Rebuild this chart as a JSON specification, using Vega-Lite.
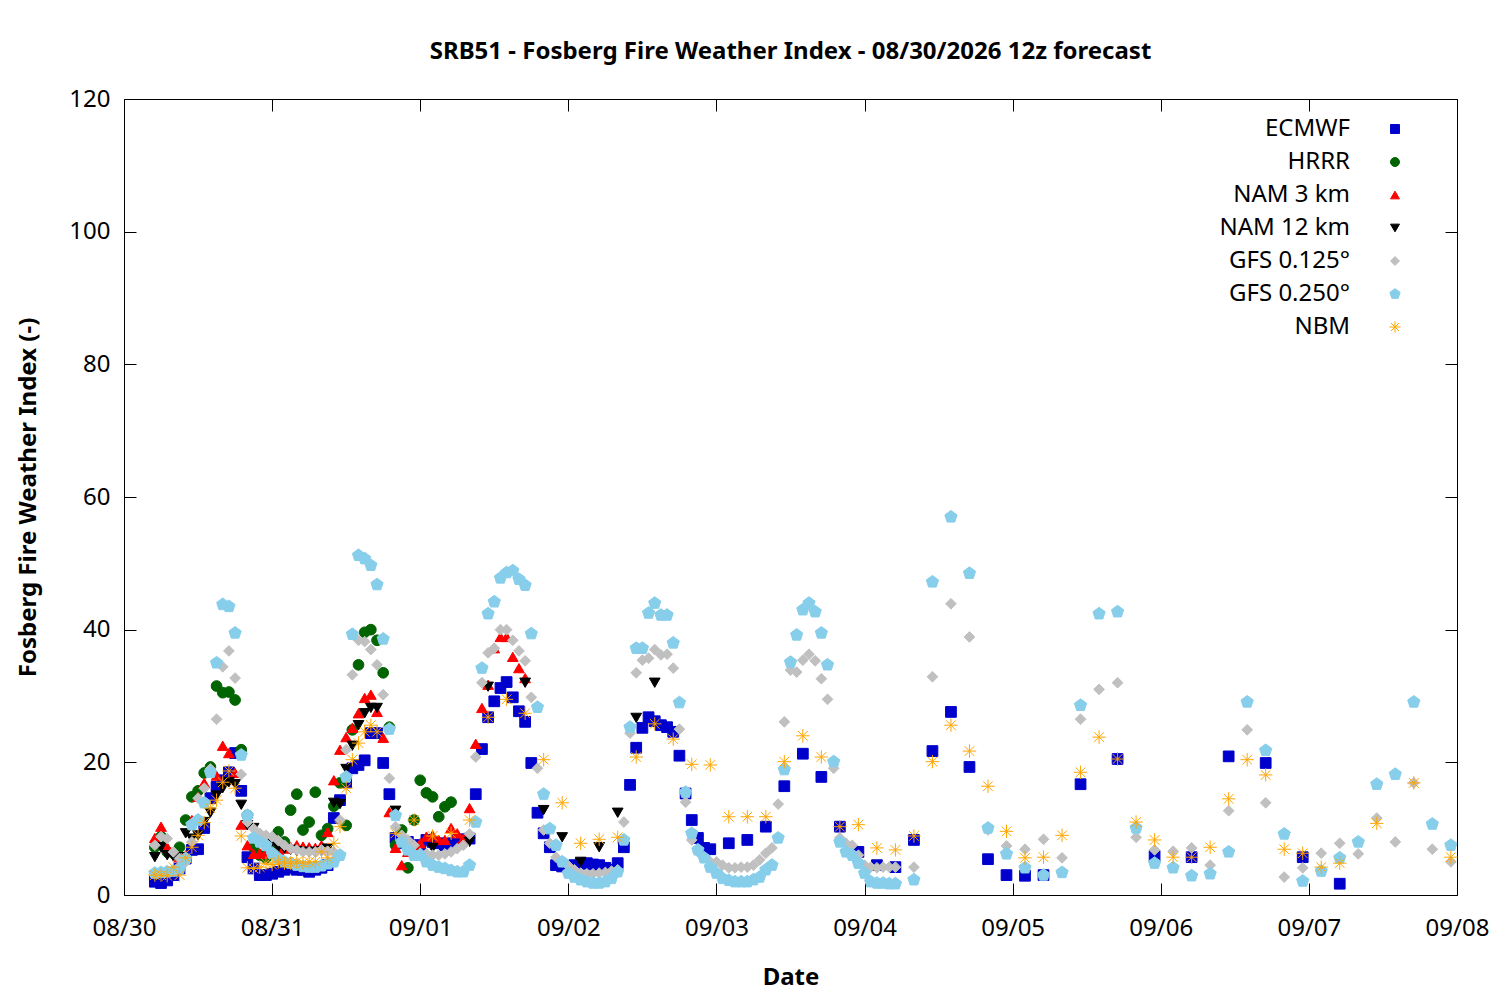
{
  "$schema": "https://vega.github.io/schema/vega-lite/v6.json",
  "description": "SRB51 Fosberg Fire Weather Index, model forecasts from the 08/30/2026 12z run.",
  "width": 1333,
  "height": 796,
  "autosize": {"type": "none"},
  "padding": {"left": 124, "top": 99, "right": 43, "bottom": 105},
  "background": "white",
  "title": {
    "text": "SRB51 - Fosberg Fire Weather Index - 08/30/2026 12z forecast",
    "font": "Noto Sans",
    "fontSize": 24,
    "fontWeight": "bold",
    "color": "black",
    "anchor": "middle",
    "offset": 23
  },
  "data": {"values": [
    {"m":"ECMWF","h":5,"v":2.0},{"m":"ECMWF","h":6,"v":1.8},{"m":"ECMWF","h":7,"v":2.2},{"m":"ECMWF","h":8,"v":3.0},{"m":"ECMWF","h":9,"v":4.0},{"m":"ECMWF","h":10,"v":5.5},{"m":"ECMWF","h":11,"v":6.8},{"m":"ECMWF","h":12,"v":6.9},{"m":"ECMWF","h":13,"v":10.1},{"m":"ECMWF","h":14,"v":14.6},{"m":"ECMWF","h":15,"v":16.3},{"m":"ECMWF","h":16,"v":17.3},{"m":"ECMWF","h":17,"v":18.5},{"m":"ECMWF","h":18,"v":21.4},{"m":"ECMWF","h":19,"v":15.7},{"m":"ECMWF","h":20,"v":5.7},{"m":"ECMWF","h":21,"v":4.0},{"m":"ECMWF","h":22,"v":3.0},{"m":"ECMWF","h":23,"v":3.0},
    {"m":"ECMWF","h":24,"v":3.2},{"m":"ECMWF","h":25,"v":3.5},{"m":"ECMWF","h":26,"v":3.8},{"m":"ECMWF","h":27,"v":4.1},{"m":"ECMWF","h":28,"v":3.8},{"m":"ECMWF","h":29,"v":3.8},{"m":"ECMWF","h":30,"v":3.5},{"m":"ECMWF","h":31,"v":3.8},{"m":"ECMWF","h":32,"v":4.1},{"m":"ECMWF","h":33,"v":4.5},{"m":"ECMWF","h":34,"v":11.6},{"m":"ECMWF","h":35,"v":14.3},{"m":"ECMWF","h":36,"v":17.0},{"m":"ECMWF","h":37,"v":19.1},{"m":"ECMWF","h":38,"v":19.6},{"m":"ECMWF","h":39,"v":20.3},{"m":"ECMWF","h":40,"v":24.4},{"m":"ECMWF","h":41,"v":24.4},{"m":"ECMWF","h":42,"v":19.9},{"m":"ECMWF","h":43,"v":15.2},{"m":"ECMWF","h":44,"v":8.6},{"m":"ECMWF","h":45,"v":7.8},{"m":"ECMWF","h":46,"v":8.0},{"m":"ECMWF","h":47,"v":7.5},
    {"m":"ECMWF","h":48,"v":7.5},{"m":"ECMWF","h":49,"v":8.3},{"m":"ECMWF","h":50,"v":8.0},{"m":"ECMWF","h":51,"v":7.8},{"m":"ECMWF","h":52,"v":7.5},{"m":"ECMWF","h":53,"v":7.8},{"m":"ECMWF","h":54,"v":8.3},{"m":"ECMWF","h":55,"v":8.4},{"m":"ECMWF","h":56,"v":8.5},{"m":"ECMWF","h":57,"v":15.2},{"m":"ECMWF","h":58,"v":22.0},{"m":"ECMWF","h":59,"v":26.8},{"m":"ECMWF","h":60,"v":29.2},{"m":"ECMWF","h":61,"v":31.2},{"m":"ECMWF","h":62,"v":32.1},{"m":"ECMWF","h":63,"v":29.8},{"m":"ECMWF","h":64,"v":27.7},{"m":"ECMWF","h":65,"v":26.1},{"m":"ECMWF","h":66,"v":19.9},{"m":"ECMWF","h":67,"v":12.4},{"m":"ECMWF","h":68,"v":9.3},{"m":"ECMWF","h":69,"v":7.2},{"m":"ECMWF","h":70,"v":4.5},{"m":"ECMWF","h":71,"v":4.3},
    {"m":"ECMWF","h":72,"v":4.4},{"m":"ECMWF","h":73,"v":4.5},{"m":"ECMWF","h":74,"v":4.7},{"m":"ECMWF","h":75,"v":4.8},{"m":"ECMWF","h":76,"v":4.6},{"m":"ECMWF","h":77,"v":4.5},{"m":"ECMWF","h":78,"v":4.1},{"m":"ECMWF","h":79,"v":3.8},{"m":"ECMWF","h":80,"v":4.8},{"m":"ECMWF","h":81,"v":7.2},{"m":"ECMWF","h":82,"v":16.6},{"m":"ECMWF","h":83,"v":22.2},{"m":"ECMWF","h":84,"v":25.2},{"m":"ECMWF","h":85,"v":26.8},{"m":"ECMWF","h":86,"v":26.2},{"m":"ECMWF","h":87,"v":25.6},{"m":"ECMWF","h":88,"v":25.3},{"m":"ECMWF","h":89,"v":24.6},{"m":"ECMWF","h":90,"v":21.0},{"m":"ECMWF","h":91,"v":15.3},{"m":"ECMWF","h":92,"v":11.3},{"m":"ECMWF","h":93,"v":8.6},{"m":"ECMWF","h":94,"v":7.1},{"m":"ECMWF","h":95,"v":6.9},
    {"m":"ECMWF","h":98,"v":7.8},{"m":"ECMWF","h":101,"v":8.3},{"m":"ECMWF","h":104,"v":10.3},{"m":"ECMWF","h":107,"v":16.4},{"m":"ECMWF","h":110,"v":21.3},{"m":"ECMWF","h":113,"v":17.8},{"m":"ECMWF","h":116,"v":10.3},{"m":"ECMWF","h":119,"v":6.5},{"m":"ECMWF","h":122,"v":4.5},{"m":"ECMWF","h":125,"v":4.2},{"m":"ECMWF","h":128,"v":8.3},{"m":"ECMWF","h":131,"v":21.7},{"m":"ECMWF","h":134,"v":27.6},{"m":"ECMWF","h":137,"v":19.3},{"m":"ECMWF","h":140,"v":5.4},{"m":"ECMWF","h":143,"v":3.0},{"m":"ECMWF","h":146,"v":2.9},{"m":"ECMWF","h":149,"v":3.0},
    {"m":"ECMWF","h":155,"v":16.7},{"m":"ECMWF","h":161,"v":20.5},{"m":"ECMWF","h":167,"v":5.9},{"m":"ECMWF","h":173,"v":5.7},{"m":"ECMWF","h":179,"v":20.9},{"m":"ECMWF","h":185,"v":19.9},{"m":"ECMWF","h":191,"v":5.7},{"m":"ECMWF","h":197,"v":1.7},

    {"m":"HRRR","h":5,"v":7.2},{"m":"HRRR","h":6,"v":8.8},{"m":"HRRR","h":7,"v":6.5},{"m":"HRRR","h":8,"v":6.3},{"m":"HRRR","h":9,"v":7.2},{"m":"HRRR","h":10,"v":11.3},{"m":"HRRR","h":11,"v":14.8},{"m":"HRRR","h":12,"v":15.7},{"m":"HRRR","h":13,"v":18.4},{"m":"HRRR","h":14,"v":19.3},{"m":"HRRR","h":15,"v":31.5},{"m":"HRRR","h":16,"v":30.5},{"m":"HRRR","h":17,"v":30.6},{"m":"HRRR","h":18,"v":29.4},{"m":"HRRR","h":19,"v":21.9},{"m":"HRRR","h":20,"v":12.0},{"m":"HRRR","h":21,"v":7.2},{"m":"HRRR","h":22,"v":6.0},{"m":"HRRR","h":23,"v":5.6},
    {"m":"HRRR","h":24,"v":7.2},{"m":"HRRR","h":25,"v":9.5},{"m":"HRRR","h":26,"v":8.0},{"m":"HRRR","h":27,"v":12.8},{"m":"HRRR","h":28,"v":15.2},{"m":"HRRR","h":29,"v":9.8},{"m":"HRRR","h":30,"v":11.0},{"m":"HRRR","h":31,"v":15.5},{"m":"HRRR","h":32,"v":9.0},{"m":"HRRR","h":33,"v":10.0},{"m":"HRRR","h":34,"v":13.4},{"m":"HRRR","h":35,"v":16.9},{"m":"HRRR","h":36,"v":10.5},{"m":"HRRR","h":37,"v":24.9},{"m":"HRRR","h":38,"v":34.7},{"m":"HRRR","h":39,"v":39.6},{"m":"HRRR","h":40,"v":40.0},{"m":"HRRR","h":41,"v":38.4},{"m":"HRRR","h":42,"v":33.5},{"m":"HRRR","h":43,"v":25.3},{"m":"HRRR","h":44,"v":7.5},{"m":"HRRR","h":45,"v":9.8},{"m":"HRRR","h":46,"v":4.1},{"m":"HRRR","h":47,"v":11.3},
    {"m":"HRRR","h":48,"v":17.3},{"m":"HRRR","h":49,"v":15.4},{"m":"HRRR","h":50,"v":14.8},{"m":"HRRR","h":51,"v":11.8},{"m":"HRRR","h":52,"v":13.3},{"m":"HRRR","h":53,"v":14.0},

    {"m":"NAM 3 km","h":5,"v":8.6},{"m":"NAM 3 km","h":6,"v":10.3},{"m":"NAM 3 km","h":7,"v":7.2},{"m":"NAM 3 km","h":8,"v":6.5},{"m":"NAM 3 km","h":9,"v":5.7},{"m":"NAM 3 km","h":10,"v":6.0},{"m":"NAM 3 km","h":11,"v":11.3},{"m":"NAM 3 km","h":12,"v":14.8},{"m":"NAM 3 km","h":13,"v":16.9},{"m":"NAM 3 km","h":14,"v":18.8},{"m":"NAM 3 km","h":15,"v":18.0},{"m":"NAM 3 km","h":16,"v":22.5},{"m":"NAM 3 km","h":17,"v":21.4},{"m":"NAM 3 km","h":18,"v":18.4},{"m":"NAM 3 km","h":19,"v":10.6},{"m":"NAM 3 km","h":20,"v":7.5},{"m":"NAM 3 km","h":21,"v":6.2},{"m":"NAM 3 km","h":22,"v":6.3},{"m":"NAM 3 km","h":23,"v":6.2},
    {"m":"NAM 3 km","h":24,"v":6.5},{"m":"NAM 3 km","h":25,"v":6.8},{"m":"NAM 3 km","h":26,"v":7.0},{"m":"NAM 3 km","h":27,"v":7.2},{"m":"NAM 3 km","h":28,"v":7.5},{"m":"NAM 3 km","h":29,"v":7.3},{"m":"NAM 3 km","h":30,"v":7.2},{"m":"NAM 3 km","h":31,"v":7.1},{"m":"NAM 3 km","h":32,"v":7.5},{"m":"NAM 3 km","h":33,"v":9.5},{"m":"NAM 3 km","h":34,"v":17.3},{"m":"NAM 3 km","h":35,"v":21.9},{"m":"NAM 3 km","h":36,"v":23.8},{"m":"NAM 3 km","h":37,"v":25.2},{"m":"NAM 3 km","h":38,"v":27.4},{"m":"NAM 3 km","h":39,"v":29.7},{"m":"NAM 3 km","h":40,"v":30.2},{"m":"NAM 3 km","h":41,"v":27.6},{"m":"NAM 3 km","h":42,"v":23.7},{"m":"NAM 3 km","h":43,"v":12.5},{"m":"NAM 3 km","h":44,"v":7.1},{"m":"NAM 3 km","h":45,"v":4.5},{"m":"NAM 3 km","h":46,"v":6.5},{"m":"NAM 3 km","h":47,"v":7.5},
    {"m":"NAM 3 km","h":48,"v":7.8},{"m":"NAM 3 km","h":49,"v":8.8},{"m":"NAM 3 km","h":50,"v":9.0},{"m":"NAM 3 km","h":51,"v":8.3},{"m":"NAM 3 km","h":52,"v":8.3},{"m":"NAM 3 km","h":53,"v":10.1},{"m":"NAM 3 km","h":54,"v":9.3},{"m":"NAM 3 km","h":55,"v":8.5},{"m":"NAM 3 km","h":56,"v":13.1},{"m":"NAM 3 km","h":57,"v":22.8},{"m":"NAM 3 km","h":58,"v":28.2},{"m":"NAM 3 km","h":59,"v":31.7},{"m":"NAM 3 km","h":60,"v":37.2},{"m":"NAM 3 km","h":61,"v":38.9},{"m":"NAM 3 km","h":62,"v":38.9},{"m":"NAM 3 km","h":63,"v":35.9},{"m":"NAM 3 km","h":64,"v":34.2},{"m":"NAM 3 km","h":65,"v":32.7},

    {"m":"NAM 12 km","h":5,"v":5.7},{"m":"NAM 12 km","h":6,"v":7.2},{"m":"NAM 12 km","h":7,"v":6.0},{"m":"NAM 12 km","h":8,"v":5.8},{"m":"NAM 12 km","h":9,"v":5.7},{"m":"NAM 12 km","h":10,"v":9.3},{"m":"NAM 12 km","h":11,"v":8.5},{"m":"NAM 12 km","h":12,"v":9.0},{"m":"NAM 12 km","h":13,"v":11.0},{"m":"NAM 12 km","h":14,"v":12.4},{"m":"NAM 12 km","h":15,"v":15.0},{"m":"NAM 12 km","h":16,"v":16.1},{"m":"NAM 12 km","h":17,"v":17.0},{"m":"NAM 12 km","h":18,"v":16.7},{"m":"NAM 12 km","h":19,"v":13.6},{"m":"NAM 12 km","h":20,"v":10.5},{"m":"NAM 12 km","h":21,"v":10.1},{"m":"NAM 12 km","h":22,"v":8.5},{"m":"NAM 12 km","h":23,"v":7.5},
    {"m":"NAM 12 km","h":24,"v":8.0},{"m":"NAM 12 km","h":25,"v":7.2},{"m":"NAM 12 km","h":26,"v":7.0},{"m":"NAM 12 km","h":27,"v":6.8},{"m":"NAM 12 km","h":28,"v":6.6},{"m":"NAM 12 km","h":29,"v":6.5},{"m":"NAM 12 km","h":30,"v":6.5},{"m":"NAM 12 km","h":31,"v":6.5},{"m":"NAM 12 km","h":32,"v":6.6},{"m":"NAM 12 km","h":33,"v":7.0},{"m":"NAM 12 km","h":34,"v":13.9},{"m":"NAM 12 km","h":35,"v":13.7},{"m":"NAM 12 km","h":36,"v":19.0},{"m":"NAM 12 km","h":37,"v":22.5},{"m":"NAM 12 km","h":38,"v":25.6},{"m":"NAM 12 km","h":39,"v":27.4},{"m":"NAM 12 km","h":40,"v":28.2},{"m":"NAM 12 km","h":41,"v":28.2},
    {"m":"NAM 12 km","h":44,"v":12.7},{"m":"NAM 12 km","h":50,"v":7.1},{"m":"NAM 12 km","h":56,"v":8.0},{"m":"NAM 12 km","h":59,"v":31.4},{"m":"NAM 12 km","h":65,"v":32.0},{"m":"NAM 12 km","h":68,"v":12.8},{"m":"NAM 12 km","h":71,"v":8.7},{"m":"NAM 12 km","h":74,"v":5.0},{"m":"NAM 12 km","h":77,"v":7.2},{"m":"NAM 12 km","h":80,"v":12.4},{"m":"NAM 12 km","h":83,"v":26.7},{"m":"NAM 12 km","h":86,"v":32.0},

    {"m":"GFS 0.125°","h":5,"v":7.5},{"m":"GFS 0.125°","h":6,"v":8.8},{"m":"GFS 0.125°","h":7,"v":8.5},{"m":"GFS 0.125°","h":8,"v":6.5},{"m":"GFS 0.125°","h":9,"v":5.5},{"m":"GFS 0.125°","h":10,"v":5.0},{"m":"GFS 0.125°","h":11,"v":8.0},{"m":"GFS 0.125°","h":12,"v":14.6},{"m":"GFS 0.125°","h":13,"v":16.1},{"m":"GFS 0.125°","h":14,"v":19.0},{"m":"GFS 0.125°","h":15,"v":26.5},{"m":"GFS 0.125°","h":16,"v":34.4},{"m":"GFS 0.125°","h":17,"v":36.8},{"m":"GFS 0.125°","h":18,"v":32.7},{"m":"GFS 0.125°","h":19,"v":18.2},{"m":"GFS 0.125°","h":20,"v":11.0},{"m":"GFS 0.125°","h":21,"v":10.0},{"m":"GFS 0.125°","h":22,"v":9.3},{"m":"GFS 0.125°","h":23,"v":9.0},
    {"m":"GFS 0.125°","h":24,"v":8.8},{"m":"GFS 0.125°","h":25,"v":8.2},{"m":"GFS 0.125°","h":26,"v":7.5},{"m":"GFS 0.125°","h":27,"v":7.0},{"m":"GFS 0.125°","h":28,"v":6.8},{"m":"GFS 0.125°","h":29,"v":6.5},{"m":"GFS 0.125°","h":30,"v":6.5},{"m":"GFS 0.125°","h":31,"v":6.5},{"m":"GFS 0.125°","h":32,"v":6.8},{"m":"GFS 0.125°","h":33,"v":6.6},{"m":"GFS 0.125°","h":34,"v":6.5},{"m":"GFS 0.125°","h":35,"v":11.3},{"m":"GFS 0.125°","h":36,"v":21.9},{"m":"GFS 0.125°","h":37,"v":33.2},{"m":"GFS 0.125°","h":38,"v":38.4},{"m":"GFS 0.125°","h":39,"v":38.2},{"m":"GFS 0.125°","h":40,"v":37.0},{"m":"GFS 0.125°","h":41,"v":34.7},{"m":"GFS 0.125°","h":42,"v":30.2},{"m":"GFS 0.125°","h":43,"v":17.6},{"m":"GFS 0.125°","h":44,"v":10.3},{"m":"GFS 0.125°","h":45,"v":9.0},{"m":"GFS 0.125°","h":46,"v":8.3},{"m":"GFS 0.125°","h":47,"v":7.5},
    {"m":"GFS 0.125°","h":48,"v":6.3},{"m":"GFS 0.125°","h":49,"v":6.2},{"m":"GFS 0.125°","h":50,"v":6.0},{"m":"GFS 0.125°","h":51,"v":6.0},{"m":"GFS 0.125°","h":52,"v":6.2},{"m":"GFS 0.125°","h":53,"v":6.5},{"m":"GFS 0.125°","h":54,"v":7.0},{"m":"GFS 0.125°","h":55,"v":7.5},{"m":"GFS 0.125°","h":56,"v":9.2},{"m":"GFS 0.125°","h":57,"v":20.8},{"m":"GFS 0.125°","h":58,"v":32.0},{"m":"GFS 0.125°","h":59,"v":36.5},{"m":"GFS 0.125°","h":60,"v":37.2},{"m":"GFS 0.125°","h":61,"v":40.0},{"m":"GFS 0.125°","h":62,"v":40.0},{"m":"GFS 0.125°","h":63,"v":38.4},{"m":"GFS 0.125°","h":64,"v":36.8},{"m":"GFS 0.125°","h":65,"v":35.3},{"m":"GFS 0.125°","h":66,"v":29.8},{"m":"GFS 0.125°","h":67,"v":19.1},{"m":"GFS 0.125°","h":68,"v":9.8},{"m":"GFS 0.125°","h":69,"v":7.8},{"m":"GFS 0.125°","h":70,"v":5.7},{"m":"GFS 0.125°","h":71,"v":5.0},
    {"m":"GFS 0.125°","h":72,"v":4.4},{"m":"GFS 0.125°","h":73,"v":3.8},{"m":"GFS 0.125°","h":74,"v":3.3},{"m":"GFS 0.125°","h":75,"v":3.2},{"m":"GFS 0.125°","h":76,"v":3.2},{"m":"GFS 0.125°","h":77,"v":3.3},{"m":"GFS 0.125°","h":78,"v":3.4},{"m":"GFS 0.125°","h":79,"v":3.6},{"m":"GFS 0.125°","h":80,"v":3.8},{"m":"GFS 0.125°","h":81,"v":11.0},{"m":"GFS 0.125°","h":82,"v":24.4},{"m":"GFS 0.125°","h":83,"v":33.5},{"m":"GFS 0.125°","h":84,"v":35.4},{"m":"GFS 0.125°","h":85,"v":35.7},{"m":"GFS 0.125°","h":86,"v":37.0},{"m":"GFS 0.125°","h":87,"v":36.2},{"m":"GFS 0.125°","h":88,"v":36.3},{"m":"GFS 0.125°","h":89,"v":34.2},{"m":"GFS 0.125°","h":90,"v":25.0},{"m":"GFS 0.125°","h":91,"v":14.0},{"m":"GFS 0.125°","h":92,"v":8.3},{"m":"GFS 0.125°","h":93,"v":6.5},{"m":"GFS 0.125°","h":94,"v":5.7},{"m":"GFS 0.125°","h":95,"v":5.0},
    {"m":"GFS 0.125°","h":96,"v":5.0},{"m":"GFS 0.125°","h":97,"v":4.5},{"m":"GFS 0.125°","h":98,"v":4.1},{"m":"GFS 0.125°","h":99,"v":4.1},{"m":"GFS 0.125°","h":100,"v":4.2},{"m":"GFS 0.125°","h":101,"v":4.2},{"m":"GFS 0.125°","h":102,"v":4.5},{"m":"GFS 0.125°","h":103,"v":5.3},{"m":"GFS 0.125°","h":104,"v":6.3},{"m":"GFS 0.125°","h":105,"v":7.1},{"m":"GFS 0.125°","h":106,"v":13.7},{"m":"GFS 0.125°","h":107,"v":26.1},{"m":"GFS 0.125°","h":108,"v":33.9},{"m":"GFS 0.125°","h":109,"v":33.6},{"m":"GFS 0.125°","h":110,"v":35.4},{"m":"GFS 0.125°","h":111,"v":36.3},{"m":"GFS 0.125°","h":112,"v":35.3},{"m":"GFS 0.125°","h":113,"v":32.6},{"m":"GFS 0.125°","h":114,"v":29.5},{"m":"GFS 0.125°","h":115,"v":19.1},{"m":"GFS 0.125°","h":116,"v":8.6},{"m":"GFS 0.125°","h":117,"v":7.8},{"m":"GFS 0.125°","h":118,"v":7.5},{"m":"GFS 0.125°","h":119,"v":6.0},{"m":"GFS 0.125°","h":120,"v":4.5},{"m":"GFS 0.125°","h":121,"v":4.2},{"m":"GFS 0.125°","h":122,"v":4.1},{"m":"GFS 0.125°","h":123,"v":4.2},{"m":"GFS 0.125°","h":124,"v":4.2},{"m":"GFS 0.125°","h":125,"v":4.2},
    {"m":"GFS 0.125°","h":128,"v":4.2},{"m":"GFS 0.125°","h":131,"v":32.9},{"m":"GFS 0.125°","h":134,"v":43.9},{"m":"GFS 0.125°","h":137,"v":38.9},{"m":"GFS 0.125°","h":140,"v":9.8},{"m":"GFS 0.125°","h":143,"v":7.4},{"m":"GFS 0.125°","h":146,"v":6.9},{"m":"GFS 0.125°","h":149,"v":8.4},{"m":"GFS 0.125°","h":152,"v":5.6},{"m":"GFS 0.125°","h":155,"v":26.5},{"m":"GFS 0.125°","h":158,"v":31.0},{"m":"GFS 0.125°","h":161,"v":32.0},{"m":"GFS 0.125°","h":164,"v":8.7},{"m":"GFS 0.125°","h":167,"v":6.8},{"m":"GFS 0.125°","h":170,"v":6.6},{"m":"GFS 0.125°","h":173,"v":7.1},{"m":"GFS 0.125°","h":176,"v":4.5},{"m":"GFS 0.125°","h":179,"v":12.7},{"m":"GFS 0.125°","h":182,"v":24.9},{"m":"GFS 0.125°","h":185,"v":13.9},{"m":"GFS 0.125°","h":188,"v":2.7},{"m":"GFS 0.125°","h":191,"v":4.1},{"m":"GFS 0.125°","h":194,"v":6.3},{"m":"GFS 0.125°","h":197,"v":7.8},{"m":"GFS 0.125°","h":200,"v":6.2},{"m":"GFS 0.125°","h":203,"v":11.6},{"m":"GFS 0.125°","h":206,"v":8.0},{"m":"GFS 0.125°","h":209,"v":16.9},{"m":"GFS 0.125°","h":212,"v":6.9},{"m":"GFS 0.125°","h":215,"v":5.0},

    {"m":"GFS 0.250°","h":5,"v":3.3},{"m":"GFS 0.250°","h":6,"v":3.4},{"m":"GFS 0.250°","h":7,"v":3.5},{"m":"GFS 0.250°","h":8,"v":3.6},{"m":"GFS 0.250°","h":9,"v":4.0},{"m":"GFS 0.250°","h":10,"v":5.5},{"m":"GFS 0.250°","h":11,"v":10.6},{"m":"GFS 0.250°","h":12,"v":11.3},{"m":"GFS 0.250°","h":13,"v":13.9},{"m":"GFS 0.250°","h":14,"v":18.5},{"m":"GFS 0.250°","h":15,"v":35.0},{"m":"GFS 0.250°","h":16,"v":43.8},{"m":"GFS 0.250°","h":17,"v":43.5},{"m":"GFS 0.250°","h":18,"v":39.5},{"m":"GFS 0.250°","h":19,"v":21.1},{"m":"GFS 0.250°","h":20,"v":12.0},{"m":"GFS 0.250°","h":21,"v":8.6},{"m":"GFS 0.250°","h":22,"v":8.0},{"m":"GFS 0.250°","h":23,"v":7.5},
    {"m":"GFS 0.250°","h":24,"v":6.3},{"m":"GFS 0.250°","h":25,"v":5.5},{"m":"GFS 0.250°","h":26,"v":5.0},{"m":"GFS 0.250°","h":27,"v":4.8},{"m":"GFS 0.250°","h":28,"v":4.5},{"m":"GFS 0.250°","h":29,"v":4.3},{"m":"GFS 0.250°","h":30,"v":4.2},{"m":"GFS 0.250°","h":31,"v":4.2},{"m":"GFS 0.250°","h":32,"v":4.4},{"m":"GFS 0.250°","h":33,"v":4.7},{"m":"GFS 0.250°","h":34,"v":5.0},{"m":"GFS 0.250°","h":35,"v":6.0},{"m":"GFS 0.250°","h":36,"v":17.8},{"m":"GFS 0.250°","h":37,"v":39.3},{"m":"GFS 0.250°","h":38,"v":51.2},{"m":"GFS 0.250°","h":39,"v":50.7},{"m":"GFS 0.250°","h":40,"v":49.7},{"m":"GFS 0.250°","h":41,"v":46.8},{"m":"GFS 0.250°","h":42,"v":38.6},{"m":"GFS 0.250°","h":43,"v":25.0},{"m":"GFS 0.250°","h":44,"v":12.0},{"m":"GFS 0.250°","h":45,"v":8.0},{"m":"GFS 0.250°","h":46,"v":6.8},{"m":"GFS 0.250°","h":47,"v":6.0},
    {"m":"GFS 0.250°","h":48,"v":6.0},{"m":"GFS 0.250°","h":49,"v":5.0},{"m":"GFS 0.250°","h":50,"v":4.5},{"m":"GFS 0.250°","h":51,"v":4.2},{"m":"GFS 0.250°","h":52,"v":4.0},{"m":"GFS 0.250°","h":53,"v":3.7},{"m":"GFS 0.250°","h":54,"v":3.5},{"m":"GFS 0.250°","h":55,"v":3.5},{"m":"GFS 0.250°","h":56,"v":4.5},{"m":"GFS 0.250°","h":57,"v":11.0},{"m":"GFS 0.250°","h":58,"v":34.2},{"m":"GFS 0.250°","h":59,"v":42.4},{"m":"GFS 0.250°","h":60,"v":44.2},{"m":"GFS 0.250°","h":61,"v":47.8},{"m":"GFS 0.250°","h":62,"v":48.6},{"m":"GFS 0.250°","h":63,"v":48.9},{"m":"GFS 0.250°","h":64,"v":47.6},{"m":"GFS 0.250°","h":65,"v":46.7},{"m":"GFS 0.250°","h":66,"v":39.4},{"m":"GFS 0.250°","h":67,"v":28.3},{"m":"GFS 0.250°","h":68,"v":15.2},{"m":"GFS 0.250°","h":69,"v":10.0},{"m":"GFS 0.250°","h":70,"v":7.5},{"m":"GFS 0.250°","h":71,"v":5.0},
    {"m":"GFS 0.250°","h":72,"v":3.3},{"m":"GFS 0.250°","h":73,"v":2.7},{"m":"GFS 0.250°","h":74,"v":2.3},{"m":"GFS 0.250°","h":75,"v":2.0},{"m":"GFS 0.250°","h":76,"v":1.8},{"m":"GFS 0.250°","h":77,"v":1.8},{"m":"GFS 0.250°","h":78,"v":2.0},{"m":"GFS 0.250°","h":79,"v":2.5},{"m":"GFS 0.250°","h":80,"v":3.5},{"m":"GFS 0.250°","h":81,"v":8.3},{"m":"GFS 0.250°","h":82,"v":25.3},{"m":"GFS 0.250°","h":83,"v":37.2},{"m":"GFS 0.250°","h":84,"v":37.2},{"m":"GFS 0.250°","h":85,"v":42.5},{"m":"GFS 0.250°","h":86,"v":44.0},{"m":"GFS 0.250°","h":87,"v":42.2},{"m":"GFS 0.250°","h":88,"v":42.2},{"m":"GFS 0.250°","h":89,"v":38.0},{"m":"GFS 0.250°","h":90,"v":29.0},{"m":"GFS 0.250°","h":91,"v":15.5},{"m":"GFS 0.250°","h":92,"v":9.3},{"m":"GFS 0.250°","h":93,"v":6.8},{"m":"GFS 0.250°","h":94,"v":5.6},{"m":"GFS 0.250°","h":95,"v":4.2},
    {"m":"GFS 0.250°","h":96,"v":3.3},{"m":"GFS 0.250°","h":97,"v":2.5},{"m":"GFS 0.250°","h":98,"v":2.2},{"m":"GFS 0.250°","h":99,"v":2.0},{"m":"GFS 0.250°","h":100,"v":2.0},{"m":"GFS 0.250°","h":101,"v":2.0},{"m":"GFS 0.250°","h":102,"v":2.3},{"m":"GFS 0.250°","h":103,"v":2.7},{"m":"GFS 0.250°","h":104,"v":3.8},{"m":"GFS 0.250°","h":105,"v":4.5},{"m":"GFS 0.250°","h":106,"v":8.6},{"m":"GFS 0.250°","h":107,"v":18.9},{"m":"GFS 0.250°","h":108,"v":35.1},{"m":"GFS 0.250°","h":109,"v":39.2},{"m":"GFS 0.250°","h":110,"v":43.0},{"m":"GFS 0.250°","h":111,"v":44.0},{"m":"GFS 0.250°","h":112,"v":42.7},{"m":"GFS 0.250°","h":113,"v":39.5},{"m":"GFS 0.250°","h":114,"v":34.7},{"m":"GFS 0.250°","h":115,"v":20.1},{"m":"GFS 0.250°","h":116,"v":8.0},{"m":"GFS 0.250°","h":117,"v":6.5},{"m":"GFS 0.250°","h":118,"v":6.0},{"m":"GFS 0.250°","h":119,"v":4.8},{"m":"GFS 0.250°","h":120,"v":3.3},{"m":"GFS 0.250°","h":121,"v":2.0},{"m":"GFS 0.250°","h":122,"v":1.8},{"m":"GFS 0.250°","h":123,"v":1.8},{"m":"GFS 0.250°","h":124,"v":1.7},{"m":"GFS 0.250°","h":125,"v":1.7},
    {"m":"GFS 0.250°","h":128,"v":2.3},{"m":"GFS 0.250°","h":131,"v":47.2},{"m":"GFS 0.250°","h":134,"v":57.0},{"m":"GFS 0.250°","h":137,"v":48.5},{"m":"GFS 0.250°","h":140,"v":10.1},{"m":"GFS 0.250°","h":143,"v":6.2},{"m":"GFS 0.250°","h":146,"v":4.1},{"m":"GFS 0.250°","h":149,"v":3.0},{"m":"GFS 0.250°","h":152,"v":3.4},{"m":"GFS 0.250°","h":155,"v":28.6},{"m":"GFS 0.250°","h":158,"v":42.4},{"m":"GFS 0.250°","h":161,"v":42.7},{"m":"GFS 0.250°","h":164,"v":10.1},{"m":"GFS 0.250°","h":167,"v":4.8},{"m":"GFS 0.250°","h":170,"v":4.1},{"m":"GFS 0.250°","h":173,"v":2.9},{"m":"GFS 0.250°","h":176,"v":3.2},{"m":"GFS 0.250°","h":179,"v":6.5},{"m":"GFS 0.250°","h":182,"v":29.1},{"m":"GFS 0.250°","h":185,"v":21.8},{"m":"GFS 0.250°","h":188,"v":9.2},{"m":"GFS 0.250°","h":191,"v":2.1},{"m":"GFS 0.250°","h":194,"v":3.6},{"m":"GFS 0.250°","h":197,"v":5.6},{"m":"GFS 0.250°","h":200,"v":8.0},{"m":"GFS 0.250°","h":203,"v":16.7},{"m":"GFS 0.250°","h":206,"v":18.2},{"m":"GFS 0.250°","h":209,"v":29.1},{"m":"GFS 0.250°","h":212,"v":10.7},{"m":"GFS 0.250°","h":215,"v":7.5},

    {"m":"NBM","h":5,"v":3.0},{"m":"NBM","h":6,"v":3.0},{"m":"NBM","h":7,"v":2.9},{"m":"NBM","h":8,"v":4.2},{"m":"NBM","h":9,"v":3.0},{"m":"NBM","h":10,"v":5.6},{"m":"NBM","h":11,"v":7.2},{"m":"NBM","h":12,"v":9.0},{"m":"NBM","h":13,"v":10.9},{"m":"NBM","h":14,"v":13.1},{"m":"NBM","h":15,"v":14.3},{"m":"NBM","h":16,"v":17.0},{"m":"NBM","h":17,"v":18.7},{"m":"NBM","h":18,"v":16.1},{"m":"NBM","h":19,"v":8.9},{"m":"NBM","h":20,"v":4.1},{"m":"NBM","h":21,"v":4.0},{"m":"NBM","h":22,"v":4.2},{"m":"NBM","h":23,"v":4.8},
    {"m":"NBM","h":24,"v":4.6},{"m":"NBM","h":25,"v":5.0},{"m":"NBM","h":26,"v":4.8},{"m":"NBM","h":27,"v":4.8},{"m":"NBM","h":28,"v":5.0},{"m":"NBM","h":29,"v":4.8},{"m":"NBM","h":30,"v":5.0},{"m":"NBM","h":31,"v":5.0},{"m":"NBM","h":32,"v":6.5},{"m":"NBM","h":33,"v":5.6},{"m":"NBM","h":34,"v":7.8},{"m":"NBM","h":35,"v":10.3},{"m":"NBM","h":36,"v":16.1},{"m":"NBM","h":37,"v":20.4},{"m":"NBM","h":38,"v":22.9},{"m":"NBM","h":39,"v":24.6},{"m":"NBM","h":40,"v":25.6},{"m":"NBM","h":41,"v":24.6},
    {"m":"NBM","h":44,"v":9.3},{"m":"NBM","h":47,"v":11.3},{"m":"NBM","h":50,"v":8.9},{"m":"NBM","h":53,"v":9.3},{"m":"NBM","h":56,"v":11.3},{"m":"NBM","h":59,"v":26.8},{"m":"NBM","h":62,"v":29.5},{"m":"NBM","h":65,"v":27.4},{"m":"NBM","h":68,"v":20.4},{"m":"NBM","h":71,"v":13.9},{"m":"NBM","h":74,"v":7.8},{"m":"NBM","h":77,"v":8.4},{"m":"NBM","h":80,"v":8.7},{"m":"NBM","h":83,"v":20.8},{"m":"NBM","h":86,"v":25.8},{"m":"NBM","h":89,"v":23.5},{"m":"NBM","h":92,"v":19.7},{"m":"NBM","h":95,"v":19.6},
    {"m":"NBM","h":98,"v":11.8},{"m":"NBM","h":101,"v":11.8},{"m":"NBM","h":104,"v":11.8},{"m":"NBM","h":107,"v":20.1},{"m":"NBM","h":110,"v":24.0},{"m":"NBM","h":113,"v":20.8},{"m":"NBM","h":116,"v":10.3},{"m":"NBM","h":119,"v":10.6},{"m":"NBM","h":122,"v":7.1},{"m":"NBM","h":125,"v":6.8},{"m":"NBM","h":128,"v":8.9},{"m":"NBM","h":131,"v":20.1},{"m":"NBM","h":134,"v":25.6},{"m":"NBM","h":137,"v":21.7},{"m":"NBM","h":140,"v":16.4},{"m":"NBM","h":143,"v":9.6},{"m":"NBM","h":146,"v":5.6},{"m":"NBM","h":149,"v":5.7},{"m":"NBM","h":152,"v":9.0},{"m":"NBM","h":155,"v":18.5},{"m":"NBM","h":158,"v":23.8},{"m":"NBM","h":161,"v":20.5},{"m":"NBM","h":164,"v":11.0},{"m":"NBM","h":167,"v":8.3},{"m":"NBM","h":170,"v":5.7},{"m":"NBM","h":173,"v":5.7},{"m":"NBM","h":176,"v":7.2},{"m":"NBM","h":179,"v":14.5},{"m":"NBM","h":182,"v":20.4},{"m":"NBM","h":185,"v":18.1},{"m":"NBM","h":188,"v":6.9},{"m":"NBM","h":191,"v":6.3},{"m":"NBM","h":194,"v":4.2},{"m":"NBM","h":197,"v":4.8},{"m":"NBM","h":203,"v":10.8},{"m":"NBM","h":209,"v":16.9},{"m":"NBM","h":215,"v":5.7}
  ]},
  "layer": [
    {
      "mark": {"type": "point", "filled": true, "size": 115, "opacity": 1, "strokeWidth": 1},
      "encoding": {
        "x": {
          "field": "h", "type": "quantitative",
          "scale": {"domain": [0, 216], "nice": false, "zero": false},
          "axis": {
            "title": "Date",
            "values": [0, 24, 48, 72, 96, 120, 144, 168, 192, 216],
            "labelExpr": "['08/30','08/31','09/01','09/02','09/03','09/04','09/05','09/06','09/07','09/08'][datum.value / 24]",
            "labelPadding": 33,
            "titlePadding": 25,
            "labelFlush": false
          }
        },
        "y": {
          "field": "v", "type": "quantitative",
          "scale": {"domain": [0, 120], "nice": false},
          "axis": {
            "title": "Fosberg Fire Weather Index (-)",
            "values": [0, 20, 40, 60, 80, 100, 120],
            "labelPadding": 26,
            "titlePadding": 28
          }
        },
        "color": {
          "field": "m", "type": "nominal",
          "scale": {
            "domain": ["ECMWF", "HRRR", "NAM 3 km", "NAM 12 km", "GFS 0.125°", "GFS 0.250°", "NBM"],
            "range": ["#0000cc", "#006400", "#ff0000", "#000000", "#c0c0c0", "#87ceeb", "#ffa500"]
          },
          "legend": {
            "orient": "none",
            "legendX": 1259,
            "legendY": 18,
            "title": null,
            "labelFont": "Noto Sans",
            "labelFontSize": 24,
            "labelColor": "black",
            "labelAlign": "right",
            "labelOffset": -57,
            "labelLimit": 0,
            "symbolSize": 80,
            "symbolStrokeWidth": 1,
            "rowPadding": 9,
            "padding": 0
          }
        },
        "stroke": {
          "field": "m", "type": "nominal",
          "scale": {
            "domain": ["ECMWF", "HRRR", "NAM 3 km", "NAM 12 km", "GFS 0.125°", "GFS 0.250°", "NBM"],
            "range": ["#0000cc", "#006400", "#ff0000", "#000000", "#c0c0c0", "#87ceeb", "#ffa500"]
          }
        },
        "shape": {
          "field": "m", "type": "nominal",
          "scale": {
            "domain": ["ECMWF", "HRRR", "NAM 3 km", "NAM 12 km", "GFS 0.125°", "GFS 0.250°", "NBM"],
            "range": [
              "square",
              "circle",
              "triangle-up",
              "triangle-down",
              "diamond",
              "M0,-1.2L1.14,-0.37L0.71,0.97L-0.71,0.97L-1.14,-0.37Z",
              "M-1.25,0L1.25,0M0,-1.25L0,1.25M-0.9,-0.9L0.9,0.9M-0.9,0.9L0.9,-0.9"
            ]
          }
        }
      }
    },
    {
      "data": {"values": [{"h": 0, "v": 0}, {"h": 216, "v": 120}]},
      "mark": {"type": "point", "opacity": 0},
      "encoding": {
        "x": {
          "field": "h", "type": "quantitative",
          "scale": {"domain": [0, 216], "nice": false, "zero": false},
          "axis": {"orient": "top", "title": null, "labels": false, "values": [0, 24, 48, 72, 96, 120, 144, 168, 192, 216]}
        },
        "y": {
          "field": "v", "type": "quantitative",
          "scale": {"domain": [0, 120], "nice": false},
          "axis": {"orient": "right", "title": null, "labels": false, "values": [0, 20, 40, 60, 80, 100, 120]}
        }
      }
    }
  ],
  "resolve": {"axis": {"x": "independent", "y": "independent"}},
  "config": {
    "view": {"stroke": "black", "strokeWidth": 1},
    "axis": {
      "domain": false,
      "grid": false,
      "tickColor": "black",
      "tickSize": -12,
      "tickWidth": 1,
      "labelFont": "Noto Sans",
      "labelFontSize": 24,
      "labelColor": "black",
      "titleFont": "Noto Sans",
      "titleFontSize": 24,
      "titleFontWeight": "bold",
      "titleColor": "black"
    }
  }
}
